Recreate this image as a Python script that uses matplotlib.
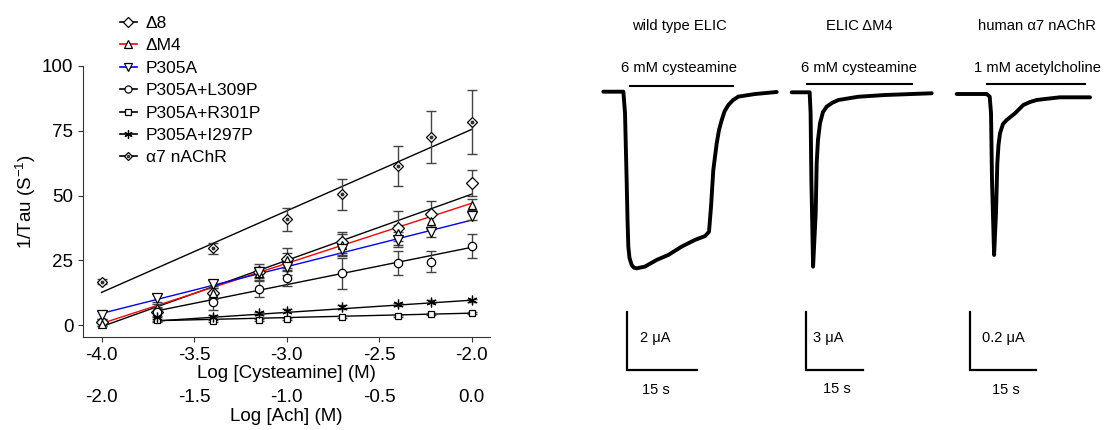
import numpy as np
import matplotlib
matplotlib.use('Agg')
import matplotlib.pyplot as plt
from matplotlib.lines import Line2D
from matplotlib.legend_handler import HandlerTuple
from matplotlib.ticker import FormatStrFormatter

plt.rcParams['font.family'] = ['Liberation Sans', 'DejaVu Sans']
plt.rcParams['mathtext.fontset'] = 'custom'
plt.rcParams['mathtext.rm'] = 'Liberation Sans'
plt.rcParams['axes.unicode_minus'] = False

# ---- rate data (log molar concentration vs 1/tau) ----
x_cys = [-4.0, -3.7, -3.4, -3.15, -3.0, -2.7, -2.4, -2.22, -2.0]
x_cys_short = [-3.7, -3.4, -3.15, -3.0, -2.7, -2.4, -2.22, -2.0]
x_ach = [-2.0, -1.4, -1.0, -0.7, -0.4, -0.22, 0.0]

d8 = [1.0, 5.0, 12.5, 20.5, 25.5, 32.0, 37.5, 43.0, 55.0]
d8_err = [1.5, 2.0, 2.5, 3.0, 4.2, 4.0, 6.4, 5.0, 5.0]
dm4 = [0.5, 6.5, 12.5, 20.0, 25.0, 31.0, 35.5, 40.0, 46.5]
dm4_err = [1.0, 1.5, 2.0, 2.0, 3.0, 4.0, 3.0, 3.0, 2.0]
p305a = [4.0, 10.5, 16.0, 20.5, 22.5, 29.5, 33.0, 36.0, 42.0]
p305a_err = [1.5, 1.5, 1.5, 2.0, 3.0, 3.0, 3.0, 2.0, 1.5]
l309p = [5.0, 9.0, 14.0, 18.0, 20.0, 24.0, 24.5, 30.5]
l309p_err = [1.5, 3.0, 3.0, 2.9, 6.0, 4.5, 4.0, 4.5]
r301p = [2.0, 1.5, 2.0, 2.5, 3.0, 3.5, 4.2, 4.8]
r301p_err = [0.5, 0.5, 0.4, 0.4, 0.4, 0.4, 0.4, 0.4]
i297p = [3.0, 3.0, 4.5, 5.5, 7.0, 8.0, 9.0, 9.5]
i297p_err = [2.0, 0.8, 0.6, 0.6, 0.6, 0.6, 0.6, 0.6]
a7 = [16.7, 29.6, 40.8, 50.5, 61.4, 72.5, 78.3]
a7_err = [1.0, 2.2, 4.3, 5.9, 7.8, 10.0, 12.3]

# linear fits: value at first and last concentration
d8_fit = [-0.6, 50.5]
dm4_fit = [0.6, 47.0]
p305a_fit = [4.5, 40.5]
l309p_fit = [5.5, 30.0]
r301p_fit = [1.7, 4.6]
i297p_fit = [1.6, 9.6]
a7_fit = [12.6, 75.5]

# ---- current traces (time s, current uA) ----
wt_t = [0, 4.3, 4.65, 5.0, 5.19, 5.36, 5.61, 6.09, 6.58, 7.16, 8.94, 11.44, 13.93, 16.8,
        19.65, 21.79, 22.65, 23.08, 23.57, 24.3, 24.79, 25.37, 25.97, 26.79, 27.79, 28.93,
        32.5, 37.16]
wt_i = [0, 0, -0.73, -3.04, -4.42, -5.34, -5.73, -5.98, -6.07, -6.09, -6.03, -5.80, -5.63,
        -5.34, -5.11, -4.98, -4.83, -3.97, -2.70, -1.78, -1.32, -0.98, -0.68, -0.46, -0.29,
        -0.17, -0.08, -0.01]
dm4_t = [0, 4.70, 4.95, 5.15, 5.60, 6.28, 6.54, 6.88, 7.41, 8.19, 9.16, 10.55, 12.20,
         17.43, 24.42, 36.65]
dm4_i = [0, 0, -1.09, -4.54, -9.02, -6.26, -3.67, -2.47, -1.60, -1.02, -0.74, -0.55, -0.40,
         -0.23, -0.14, -0.05]
a7_t = [0, 6.82, 7.50, 7.80, 8.02, 8.50, 8.93, 9.23, 9.5, 9.84, 10.52, 11.36, 13.25, 15.14,
        16.66, 18.18, 20.07, 23.48, 30.30]
a7_i = [0, 0, -0.0093, -0.0666, -0.2966, -0.5552, -0.4114, -0.2390, -0.1759, -0.1355,
        -0.1034, -0.0897, -0.0666, -0.0379, -0.0276, -0.0207, -0.0172, -0.0114, -0.0114]

W, H = 1104, 430
fig = plt.figure(figsize=(W / 100, H / 100), dpi=100)

ax = fig.add_axes([83 / W, (H - 337) / H, (490 - 83) / W, (337 - 66) / H])
ax.set_xlim(-4.1, -1.9)
ax.set_ylim(-4.6, 100)
for s in ['top', 'right']:
    ax.spines[s].set_visible(False)
for s in ['left', 'bottom']:
    ax.spines[s].set_color('#333333')
ax.tick_params(direction='out', length=3.5, labelsize=13.5, colors='#333333', labelcolor='black')
ax.set_xticks([-4.0, -3.5, -3.0, -2.5, -2.0])
ax.xaxis.set_major_formatter(FormatStrFormatter('%.1f'))
ax.set_yticks([0, 25, 50, 75, 100])
ax.set_xlabel('Log [Cysteamine] (M)', fontsize=13.5, labelpad=1)
ax.set_ylabel(r'1/Tau (S$\mathregular{^{-1}}$)', fontsize=13.5, labelpad=3)

ach_x = [v - 2 for v in x_ach]  # Ach axis is shifted by 2 log units
series = [
    ('Δ8', x_cys, d8, d8_err, d8_fit, 'black', 'D', 6.5),
    ('ΔM4', x_cys, dm4, dm4_err, dm4_fit, 'red', '^', 6),
    ('P305A', x_cys, p305a, p305a_err, p305a_fit, 'blue', 'v', 6.5),
    ('P305A+L309P', x_cys_short, l309p, l309p_err, l309p_fit, 'black', 'o', 6),
    ('P305A+R301P', x_cys_short, r301p, r301p_err, r301p_fit, 'black', 's', 5),
    ('P305A+I297P', x_cys_short, i297p, i297p_err, i297p_fit, 'black', (6, 2, 0), 7),
    ('α7 nAChR', ach_x, a7, a7_err, a7_fit, 'black', 'D', 5),
]

handles, labels = [], []
for name, xs, ys, err, fit, col, mk, ms in series:
    ax.plot([xs[0], xs[-1]], fit, color=col, lw=1, zorder=2)
    ax.errorbar(xs, ys, yerr=err, fmt='none', ecolor='#444444', elinewidth=1,
                capsize=3.5, capthick=1, zorder=3)
    ax.plot(xs, ys, ls='none', marker=mk, ms=ms, mfc='white', mec='black', mew=0.9, zorder=4)
    h = Line2D([], [], color=col, lw=1.2, marker=mk, ms=ms * 0.85, mfc='white', mec='black', mew=0.9)
    if name.startswith('α7'):
        ax.plot(xs, ys, ls='none', marker='o', ms=1.8, color='#333333', zorder=5)
        h = (h, Line2D([], [], ls='none', marker='o', ms=1.5, color='#333333'))
    handles.append(h)
    labels.append(name)

fig.legend(handles, labels, loc='upper left', bbox_to_anchor=(111 / W, 1 - 7 / H),
           frameon=False, fontsize=12.5, handlelength=1.0, handletextpad=0.5,
           labelspacing=0.42, borderpad=0, handler_map={tuple: HandlerTuple(ndivide=1)})

sec = ax.secondary_xaxis(-0.175, functions=(lambda v: v + 2, lambda v: v - 2))
sec.spines['bottom'].set_visible(False)
sec.tick_params(length=0, labelsize=13.5)
sec.set_xticks([-2.0, -1.5, -1.0, -0.5, 0.0])
sec.xaxis.set_major_formatter(FormatStrFormatter('%.1f'))
sec.set_xlabel('Log [Ach] (M)', fontsize=13.5, labelpad=1)


# ---- current traces ----
def trace_panel(left, width, t0, base, px_s, px_ua):
    a = fig.add_axes([left / W, 0, width / W, 1])
    a.set_xlim((left - t0) / px_s, (left + width - t0) / px_s)
    a.set_ylim(-(H - base) / px_ua, base / px_ua)
    a.axis('off')
    return a


panels = [
    dict(box=(590, 200, 603.3, 91.7, 4.667, 29.0), t=wt_t, i=wt_i, title='wild type ELIC',
         stim='6 mM cysteamine', stim_on=(5.72, 27.86), scale_ua=2, ua_label='2 μA',
         title_pos=(16.2, 2.27, 0.82), bar_y=0.197, corner=(5.08, -9.60),
         ua_pos=(11.08, -8.49), s_pos=(11.3, -10.29)),
    dict(box=(785, 165, 791.7, 92.3, 3.82, 19.33), t=dm4_t, i=dm4_i, title='ELIC ΔM4',
         stim='6 mM cysteamine', stim_on=(3.93, 31.57), scale_ua=3, ua_label='3 μA',
         title_pos=(17.62, 3.43, 1.26), bar_y=0.43, corner=(3.74, -14.37),
         ua_pos=(9.63, -12.71), s_pos=(11.86, -15.34)),
    dict(box=(950, 154, 956.7, 94.0, 4.4, 290.0), t=a7_t, i=a7_i, title='human α7 nAChR',
         stim='1 mM acetylcholine', stim_on=(6.95, 29.16), scale_ua=0.2, ua_label='0.2 μA',
         title_pos=(18.25, 0.2345, 0.0897), bar_y=0.0345, corner=(3.02, -0.9517),
         ua_pos=(10.59, -0.8414), s_pos=(11.2, -1.0207)),
]
scale_s = 15

for p in panels:
    a = trace_panel(*p['box'])
    a.plot(p['t'], p['i'], color='black', lw=2.8, solid_joinstyle='round', solid_capstyle='round')
    a.plot(p['stim_on'], [p['bar_y']] * 2, color='black', lw=1.5)
    tx, ty1, ty2 = p['title_pos']
    a.text(tx, ty1, p['title'], ha='center', va='center', fontsize=10.6, clip_on=False)
    a.text(tx, ty2, p['stim'], ha='center', va='center', fontsize=10.6, clip_on=False)
    cx, cy = p['corner']
    a.plot([cx, cx, cx + scale_s], [cy + p['scale_ua'], cy, cy], color='black', lw=1.6,
           solid_joinstyle='miter')
    a.text(*p['ua_pos'], p['ua_label'], ha='center', va='center', fontsize=10.5)
    a.text(*p['s_pos'], '15 s', ha='center', va='center', fontsize=10.5)

fig.savefig('out.png', dpi=100)
